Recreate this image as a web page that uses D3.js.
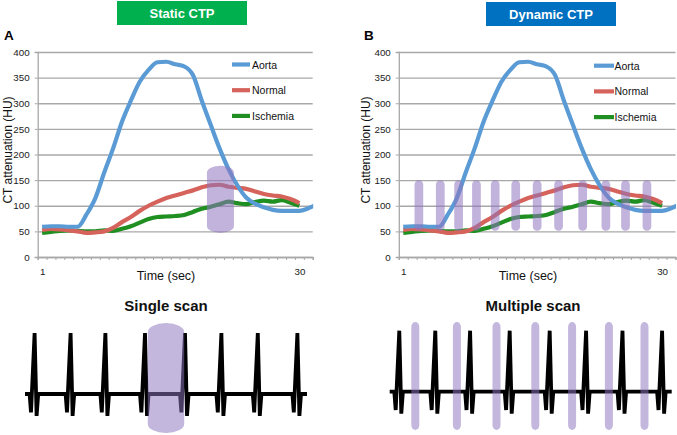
<!DOCTYPE html>
<html><head><meta charset="utf-8">
<script src="https://cdn.jsdelivr.net/npm/d3@7"></script>
<style>body{margin:0;background:#fff}svg{display:block}</style>
</head><body>
<script>
// ---------------- data ----------------
const time = [1,2,3,4,5,6,7,8,9,10,11,12,13,14,15,16,17,18,19,20,21,22,23,24,25,26,27,28,29,30,31,32];
const aorta = [59,60,60,59,59,83,115,165,212,264,305,342,365,380,381,376,372,355,305,258,212,172,140,116,104,97,92,90,90,90,95,103];
const normal = [53,55,54,52,50,47,48,50,57,68,78,90,100,108,115,120,125,130,136,140,141,137,135,133,128,123,120,118,113,105];
const ischemia = [47,49,51,52,51,50,50,52,51,55,60,67,74,78,79,80,82,88,94,98,103,108,105,103,107,110,108,111,106,100];
const seriesNames = ["Aorta","Normal","Ischemia"];
const yTicks = [0,50,100,150,200,250,300,350,400];
const xLabels = [1,30];
const staticScanTime = [21.1];
const staticScanRange = [47,178];
const dynamicScanTimes = [2.75,5.15,7.2,9.2,11.3,13.6,16.0,18.4,21.1,23.7,25.9,28.3];
const dynamicScanRange = [51,150];
// ECG strip (seconds)
const ecgBeats = [0.24,1.14,2.01,3.0,4.0,4.91,5.82,6.81];
const ecgEnd = 7.05;
const beatShape = [[-0.125,0],[-0.09,-0.3],[0,1],[0.05,-0.36],[0.09,0]];
const ecgStaticScan = [3.07,3.98];
const ecgDynamicScans = [0.64,1.68,2.67,3.64,4.56,5.48,6.37];

const colors = ["#5b9bd5","#d6625c","#1f8f22"];
const scanFill = "#8e75be";
const F = "'Liberation Sans', Arial, sans-serif";

const W=677,H=435;
const svg = d3.select("body").append("svg").attr("width",W).attr("height",H)
  .style("font-family",F);
const defs = svg.append("defs");

function chart(cfg){
  const x = d3.scaleLinear().domain([0.5,31.5]).range([cfg.x0,cfg.x1]);
  const y = d3.scaleLinear().domain([0,400]).range([257,52]);
  const g = svg.append("g");
  // gridlines
  const grid = g.append("g").attr("transform",`translate(${cfg.x0},0)`)
    .call(d3.axisLeft(y).tickValues(yTicks).tickSize(-(cfg.x1-cfg.x0)).tickFormat(""));
  grid.select(".domain").remove();
  grid.selectAll("line").attr("stroke","#a8a8a8").attr("stroke-width",1.3);
  // y axis
  const ya = g.append("g").attr("transform",`translate(${cfg.x0},0)`)
    .call(d3.axisLeft(y).tickValues(yTicks).tickSize(3).tickPadding(5));
  ya.select(".domain").attr("stroke","#a8a8a8").attr("stroke-width",1.3);
  ya.selectAll("line").attr("stroke","#a8a8a8");
  ya.selectAll("text").attr("font-size",9.8).attr("fill","#222").style("font-family",F);
  // x axis ticks (category boundaries)
  const bounds = d3.range(0,32).map(k=>0.5+k);
  const xa = g.append("g").attr("transform","translate(0,257)")
    .call(d3.axisBottom(x).tickValues(bounds).tickSize(3).tickFormat(""));
  xa.select(".domain").attr("stroke","#a8a8a8").attr("stroke-width",1.3);
  xa.selectAll("line").attr("stroke","#a8a8a8");
  const xl = g.append("g").attr("transform","translate(0,257)")
    .call(d3.axisBottom(x).tickValues(xLabels).tickSize(0).tickPadding(11));
  xl.select(".domain").remove();
  xl.selectAll("text").attr("font-size",9.8).attr("fill","#222").style("font-family",F);
  // axis titles
  g.append("text").attr("x",cfg.xt).attr("y",279.5).attr("text-anchor","middle")
    .attr("font-size",12.5).attr("fill","#111").text("Time (sec)");
  g.append("text").attr("transform",`translate(${cfg.yt},150) rotate(-90)`)
    .attr("text-anchor","middle").attr("dominant-baseline","central")
    .attr("font-size",12).attr("fill","#111").text("CT attenuation (HU)");
  // clip
  const cid = "clip"+cfg.id;
  defs.append("clipPath").attr("id",cid).append("rect")
    .attr("x",cfg.x0).attr("y",40).attr("width",cfg.x1-cfg.x0+0.5).attr("height",225);
  const line = d3.line().x(d=>x(d[0])).y(d=>y(d[1])).curve(d3.curveMonotoneX);
  const data = [aorta,normal,ischemia];
  const lg = g.append("g").attr("clip-path",`url(#${cid})`);
  [2,1,0].forEach(i=>{
    const pts = data[i].map((v,k)=>[time[k],v]);
    lg.append("path").attr("d",line(pts)).attr("fill","none")
      .attr("stroke",colors[i]).attr("stroke-width",4.2).attr("stroke-linejoin","round");
  });
  // legend
  seriesNames.forEach((n,i)=>{
    const ly = cfg.ly + i*25.7;
    g.append("line").attr("x1",cfg.lx).attr("x2",cfg.lx+cfg.lw).attr("y1",ly).attr("y2",ly)
      .attr("stroke",colors[i]).attr("stroke-width",4.2);
    g.append("text").attr("x",cfg.lx+cfg.lw+cfg.lgap).attr("y",ly).attr("dominant-baseline","central")
      .attr("font-size",10.5).attr("fill","#111").text(n);
  });
  // scans
  if(cfg.dynamic){
    const hw = 4.35;
    g.selectAll(null).data(dynamicScanTimes).join("rect")
      .attr("x",d=>x(d)-hw).attr("width",hw*2)
      .attr("y",y(dynamicScanRange[1])).attr("height",y(dynamicScanRange[0])-y(dynamicScanRange[1]))
      .attr("rx",hw).attr("ry",hw).attr("fill",scanFill).attr("opacity",0.55);
  } else {
    const hw = 13.5;
    g.selectAll(null).data(staticScanTime).join("rect")
      .attr("x",d=>x(d)-hw).attr("width",hw*2)
      .attr("y",y(staticScanRange[1])).attr("height",y(staticScanRange[0])-y(staticScanRange[1]))
      .attr("rx",hw).attr("ry",7).attr("fill",scanFill).attr("opacity",0.55);
  }
  // header box
  g.append("rect").attr("x",cfg.bx).attr("y",cfg.by).attr("width",130).attr("height",24).attr("fill",cfg.bcol);
  g.append("text").attr("x",cfg.bx+65).attr("y",cfg.by+12.5).attr("text-anchor","middle")
    .attr("dominant-baseline","central").attr("font-size",13).attr("font-weight","bold")
    .attr("fill","#fff").text(cfg.title);
  g.append("text").attr("x",cfg.px).attr("y",39.5).attr("font-size",13.5).attr("font-weight","bold")
    .attr("fill","#000").text(cfg.letter);
}

chart({id:"A",x0:37.7,x1:312.7,xt:166,yt:8,lx:232,lw:18,lgap:2,ly:64.5,
  bx:117,by:1,bcol:"#00b04f",title:"Static CTP",px:4,letter:"A",dynamic:false});
chart({id:"B",x0:398.8,x1:675.5,xt:528,yt:366,lx:594,lw:20,lgap:0.5,ly:65.7,
  bx:486,by:2,bcol:"#0070c0",title:"Dynamic CTP",px:364,letter:"B",dynamic:true});

function ecg(cfg){
  const xE = d3.scaleLinear().domain([0,ecgEnd]).range([cfg.x0,cfg.x0+282]);
  const yE = d3.scaleLinear().domain([0,1]).range([cfg.b,cfg.b-61]);
  const pts = [[0,0]];
  ecgBeats.forEach(t=>beatShape.forEach(s=>pts.push([t+s[0],s[1]])));
  pts.push([ecgEnd,0]);
  const g = svg.append("g");
  g.append("path").attr("d",d3.line().x(d=>xE(d[0])).y(d=>yE(d[1]))(pts))
    .attr("fill","none").attr("stroke","#000").attr("stroke-width",3.8)
    .attr("stroke-miterlimit",3);
  if(cfg.dynamic){
    g.selectAll(null).data(ecgDynamicScans).join("rect")
      .attr("x",d=>xE(d)-4).attr("width",8).attr("y",322).attr("height",108)
      .attr("rx",4).attr("ry",5).attr("fill",scanFill).attr("opacity",0.52);
  } else {
    g.append("rect").attr("x",xE(ecgStaticScan[0])).attr("width",xE(ecgStaticScan[1])-xE(ecgStaticScan[0]))
      .attr("y",323).attr("height",110).attr("rx",18).attr("ry",9)
      .attr("fill",scanFill).attr("opacity",0.52);
  }
  g.append("text").attr("x",cfg.tx).attr("y",311).attr("text-anchor","middle")
    .attr("font-size",15).attr("font-weight","bold").attr("fill","#111").text(cfg.label);
}
ecg({x0:25,b:394,tx:166,label:"Single scan",dynamic:false});
ecg({x0:389.7,b:391.7,tx:533,label:"Multiple scan",dynamic:true});
</script>
</body></html>
